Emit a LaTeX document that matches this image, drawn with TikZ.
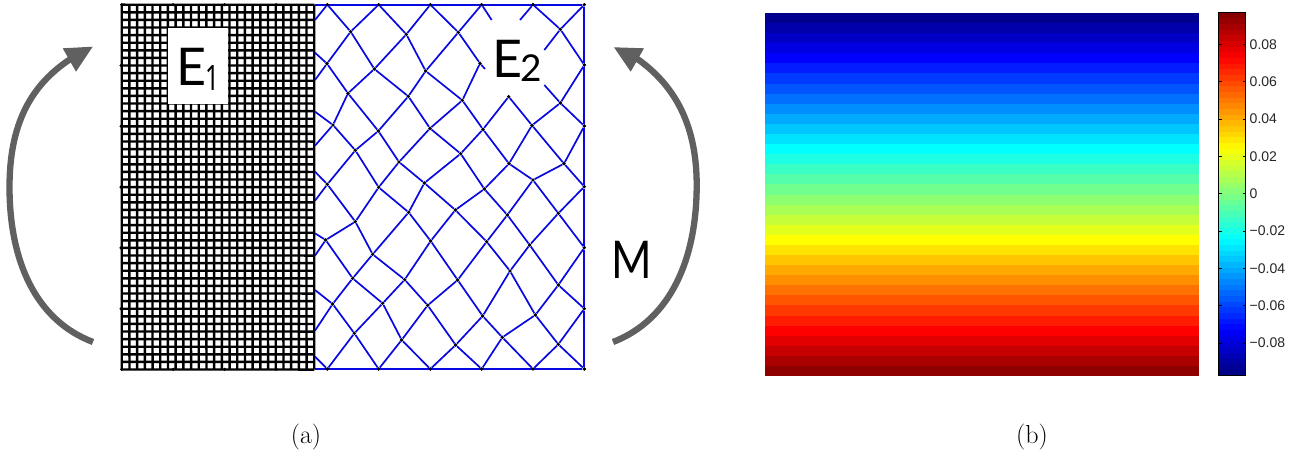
\documentclass[tikz,border=0pt]{standalone}
\usepackage{fontspec}
\newfontfamily\gillish{Lato}
\newfontfamily\subish{Noto Sans}
\newfontfamily\arialish{Liberation Sans}
\definecolor{meshblue}{rgb}{0.03,0.03,0.88}
\definecolor{arrowgray}{RGB}{96,96,96}
\tikzset{
  meshdot/.style={circle,fill=black,inner sep=0pt,minimum size=3.4pt},
  meshline/.style={draw=meshblue,line width=1.7pt},
  gridline/.style={draw=black,line width=2.4pt},
  sweep/.style={draw=arrowgray,line width=6.3pt},
  sweephead/.style={fill=arrowgray},
  ticklabel/.style={font=\arialish\fontsize{14}{15}\selectfont,text=black!85,anchor=west,inner sep=0pt},
  bigsans/.style={font=\gillish\fontsize{52}{54}\selectfont,inner sep=0pt},
  caption/.style={font=\fontsize{26}{28}\selectfont,inner sep=0pt}
}
\newcommand{\MN}[3]{\node[meshdot] (#1) at ({310+#2/3},{#3/3}) {};}
\newcommand{\MC}[3]{\coordinate (#1) at ({310+#2/3},{#3/3});}
\newcommand{\JetFill}[1]{%
  \pgfmathsetmacro{\jr}{max(0,min(1,min(4*#1-1.5,-4*#1+4.5)))}%
  \pgfmathsetmacro{\jg}{max(0,min(1,min(4*#1-0.5,-4*#1+3.5)))}%
  \pgfmathsetmacro{\jb}{max(0,min(1,min(4*#1+0.5,-4*#1+2.5)))}%
  \definecolor{jetc}{rgb}{\jr,\jg,\jb}}
\begin{document}
\begin{tikzpicture}[x=1pt,y=-1pt]
\useasboundingbox (0,0) rectangle (1306,452);
% fine grid E1 (the tiny slope keeps every line evenly rendered)
\foreach \i in {0,...,25} \draw[gridline] ({121.7+\i*7.7},4.7) -- ({121.75+\i*7.7},369.3);
\foreach \j in {0,...,48} \draw[gridline] (121.7,{4.7+\j*7.6}) -- (314.3,{4.75+\j*7.6});
\foreach \k in {0,...,3} {
  \node[meshdot] (gt\k) at ({121.7+\k*51.5},4.7) {};
  \node[meshdot] (gb\k) at ({121.7+\k*51.5},369.3) {};
}
\foreach \k in {1,...,5} \node[meshdot] (gl\k) at (121,{4.7+\k*60.8}) {};
% E1 label
\fill[white] (168.3,27.7) rectangle (228.3,104);
\node[bigsans,anchor=base west] (eone) at (176,85.7) {E};
\node[anchor=base,inner sep=0pt,font=\subish\fontsize{35}{36}\selectfont] (eonesub) at (213,90) {\scalebox{0.7}[1]{1}};
% mesh nodes (zoom 2)
\MN{ta}{52}{14}\MN{tb}{206}{14}\MN{tc}{361}{14}\MN{td}{515}{14}\MN{te}{669}{14}\MN{tf}{823}{14}
\MN{a}{122}{95}\MN{b}{289}{103}\MN{c}{445}{97}\MN{d}{751}{88}
\MN{e}{51}{191}\MN{f}{193}{207}\MN{g}{347}{213}\MN{h}{510}{190}\MN{i}{823}{195}
\MN{j}{114}{280}\MN{k}{295}{289}\MN{l}{457}{301}\MN{m}{596}{290}\MN{n}{751}{309}
\MN{o}{69}{375}\MN{p}{205}{393}\MN{q}{360}{385}\MN{r}{519}{388}\MN{s}{666}{376}\MN{t}{823}{378}
\MN{u}{136}{451}\MN{v}{267}{486}\MN{w}{452}{461}\MN{x}{597}{491}\MN{y}{762}{491}
\MN{z}{52}{553}\MN{aa}{206}{562}\MN{ab}{343}{549}\MN{ac}{523}{567}\MN{ad}{669}{540}\MN{ae}{823}{560}
% mesh nodes (zoom 3, y+555)
\MN{A}{296}{637}\MN{B}{436}{630}\MN{C}{592}{645}\MN{D}{745}{640}
\MN{E}{47}{720}\MN{F}{136}{665}\MN{G}{362}{723}\MN{H}{530}{725}\MN{I}{659}{735}\MN{J}{823}{743}
\MN{K}{188}{763}\MN{L}{600}{813}
\MN{M}{128}{835}\MN{N}{284}{839}\MN{O}{443}{840}\MN{P}{745}{855}
\MN{Q}{68}{912}\MN{R}{218}{910}\MN{S}{353}{916}\MN{T}{518}{948}\MN{U}{676}{945}\MN{V}{823}{926}
\MN{W}{133}{1000}\MN{X}{275}{1020}\MN{Y}{437}{1035}\MN{Z}{577}{1012}\MN{AA}{745}{1033}
\MN{ba}{52}{1107}\MN{bb}{206}{1107}\MN{bc}{361}{1107}\MN{bd}{515}{1107}\MN{be}{669}{1107}\MN{bf}{823}{1107}
% free ends on the interface and at the label gap
\MC{la}{15}{60}\MC{lb}{15}{158}\MC{lc}{15}{240}\MC{ld}{15}{335}\MC{le}{15}{437}\MC{lf}{15}{515}
\MC{lg}{15}{602}\MC{lh}{15}{700}\MC{li}{15}{767}\MC{lj}{15}{870}\MC{lk}{15}{992}\MC{ll}{15}{1070}\MC{lm}{15}{1107}\MC{ln}{15}{14}
\MC{sa}{545}{60}\MC{sb}{630}{60}\MC{sc}{525}{207}\MC{sd}{703}{150}\MC{se}{703}{255}
\begin{scope}[meshline]
\draw (ln) -- (tf) -- (i) -- (t) -- (ae) -- (J) -- (V) -- (bf) -- (lm);
\draw (la) -- (ta) -- (a) -- (tb) -- (b) -- (tc) -- (c) -- (td) -- (sa);
\draw (sb) -- (te) -- (d) -- (tf);
\draw (lb) -- (e) -- (a) -- (f) -- (b) -- (g) -- (c) -- (h) -- (sc);
\draw (lc) -- (e) -- (j) -- (f) -- (k) -- (g) -- (l) -- (h);
\draw (sd) -- (d) -- (i) -- (n) -- (se);
\draw (ld) -- (o) -- (j) -- (p) -- (k) -- (q) -- (l) -- (r) -- (m) -- (s) -- (n) -- (t) -- (y) -- (s) -- (x) -- (r) -- (w) -- (q) -- (v) -- (p) -- (u) -- (o) -- (le);
\draw (lf) -- (z) -- (u) -- (aa) -- (v) -- (ab) -- (w) -- (ac) -- (x) -- (ad) -- (y) -- (ae);
\draw (lg) -- (z) -- (F) -- (aa) -- (A) -- (ab) -- (B) -- (ac) -- (C) -- (ad) -- (D) -- (ae);
\draw (lh) -- (E) -- (F) -- (K) -- (A) -- (G) -- (B) -- (H) -- (C) -- (I) -- (D) -- (J);
\draw (li) -- (E) -- (M) -- (K) -- (N) -- (G) -- (O) -- (H) -- (L) -- (I) -- (P) -- (J);
\draw (lj) -- (Q) -- (M) -- (R) -- (N) -- (S) -- (O) -- (T) -- (L) -- (U) -- (P) -- (V) -- (AA) -- (U) -- (Z) -- (T) -- (Y) -- (S) -- (X) -- (R) -- (W) -- (Q) -- (lk);
\draw (ll) -- (ba) -- (W) -- (bb) -- (X) -- (bc) -- (Y) -- (bd) -- (Z) -- (be) -- (AA) -- (bf);
\end{scope}
% redraw dots above lines
\foreach \n in {ta,tb,tc,td,te,tf,a,b,c,d,e,f,g,h,i,j,k,l,m,n,o,p,q,r,s,t,u,v,w,x,y,z,aa,ab,ac,ad,ae,A,B,C,D,E,F,G,H,I,J,K,L,M,N,O,P,Q,R,S,T,U,V,W,X,Y,Z,AA,ba,bb,bc,bd,be,bf}
  \fill (\n) circle (1.7pt);
\node[bigsans,anchor=base west] (etwo) at (492,77.3) {E};
\node[anchor=base west,inner sep=0pt,font=\gillish\fontsize{37}{38}\selectfont] (etwosub) at (520,81.7) {2};
\node[anchor=base west,inner sep=0pt,font=\gillish\fontsize{52}{54}\selectfont] (mlabel) at (611.5,278) {\scalebox{0.84}[1]{M}};
% sweep arrows
\coordinate (las) at (93,342); \coordinate (lam) at (9.5,187); \coordinate (lae) at (72,58);
\draw[sweep] (las) .. controls (35,320) and (9.5,260) .. (lam) .. controls (9.5,125) and (30,85) .. (lae);
\fill[sweephead] (62.7,48.3) -- (92.7,46.7) -- (76,71.7) -- cycle;
\coordinate (ras) at (613,342); \coordinate (ram) at (696.7,185); \coordinate (rae) at (636,58);
\draw[sweep] (ras) .. controls (670,320) and (696.7,260) .. (ram) .. controls (696.7,125) and (675,85) .. (rae);
\fill[sweephead] (644,48.3) -- (614,47.3) -- (630.7,71.7) -- cycle;
% field plot
\foreach \i in {0,...,35} {
  \pgfmathsetmacro{\v}{(\i+0.5)/36}
  \JetFill{\v}
  \fill[jetc] (765,{13+\i*10.0833}) rectangle (1199,{13.3+(\i+1)*10.0833});
}
% colour bar
\foreach \i in {0,...,63} {
  \pgfmathsetmacro{\v}{1-(\i+0.5)/64}
  \JetFill{\v}
  \fill[jetc] (1218.5,{12.7+\i*5.664}) rectangle (1245.5,{13+(\i+1)*5.664});
}
\draw[black,line width=1pt] (1218.5,12.7) rectangle (1245.5,375.2);
\foreach \yy/\lab [count=\c] in {44.3/0.08,81.7/0.06,119/0.04,156.3/0.02,193.5/0,231/{−0.02},268.3/{−0.04},305.7/{−0.06},343/{−0.08}} {
  \draw[black,line width=0.8pt] (1218.5,\yy) -- (1221.5,\yy) (1242.5,\yy) -- (1245.5,\yy);
  \node[ticklabel] (tick\c) at (1249.5,\yy) {\lab};
}
\node[caption] (capa) at (306,437) {(a)};
\node[caption] (capb) at (1032,437) {(b)};
\end{tikzpicture}
\end{document}
